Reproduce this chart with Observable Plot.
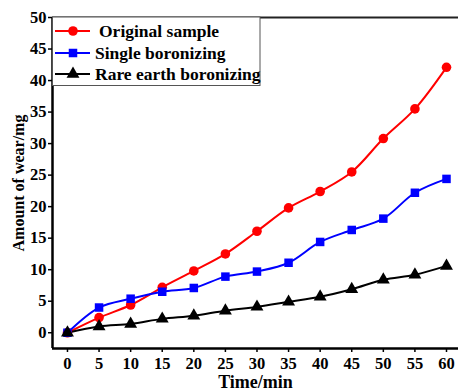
<!DOCTYPE html>
<html>
<head>
<meta charset="utf-8">
<script src="https://cdn.jsdelivr.net/npm/d3@7"></script>
<script src="https://cdn.jsdelivr.net/npm/@observablehq/plot@0.6"></script>
<style>
  html, body { margin: 0; padding: 0; background: #fff; }
  #wrap { position: relative; width: 458px; height: 392px; overflow: hidden; }
  #legend { position: absolute; left: 0; top: 0; }
</style>
</head>
<body>
<div id="wrap"></div>
<script>
const times = [0, 5, 10, 15, 20, 25, 30, 35, 40, 45, 50, 55, 60];
const original = [0, 2.4, 4.4, 7.2, 9.8, 12.5, 16.1, 19.8, 22.4, 25.5, 30.8, 35.5, 42.1];
const single = [0, 4.0, 5.4, 6.5, 7.1, 8.9, 9.7, 11.1, 14.4, 16.3, 18.1, 22.2, 24.4];
const rareEarth = [0, 1.0, 1.4, 2.2, 2.7, 3.5, 4.1, 4.9, 5.7, 6.9, 8.4, 9.2, 10.6];
const seriesNames = ["Original sample", "Single boronizing", "Rare earth boronizing"];
const seriesColors = ["#ff0000", "#0000ff", "#000000"];
const seriesSymbols = ["circle", "square", "triangle"];
const yTicks = [0, 5, 10, 15, 20, 25, 30, 35, 40, 45, 50];
const xTicks = [0, 5, 10, 15, 20, 25, 30, 35, 40, 45, 50, 55, 60];

const allSeries = [original, single, rareEarth];
const data = [];
allSeries.forEach((vals, i) => vals.forEach((v, j) => data.push({series: seriesNames[i], t: times[j], v})));

const xDomain = [-2.37, 61.9];
const yDomain = [-2.5, 50];
const font = "'Liberation Serif', 'Times New Roman', serif";

const chart = Plot.plot({
  width: 458,
  height: 392,
  marginLeft: 52,
  marginRight: 0,
  marginTop: 17,
  marginBottom: 44,
  style: {fontFamily: font, fontSize: "16.5px", fontWeight: "bold", color: "#000", background: "#fff"},
  x: {domain: xDomain, ticks: xTicks, tickSize: 4, tickPadding: 5, label: null},
  y: {domain: yDomain, ticks: yTicks, tickSize: 4, tickPadding: 2, label: null},
  color: {domain: seriesNames, range: seriesColors},
  symbol: {domain: seriesNames, range: seriesSymbols},
  marks: [
    Plot.axisX({ticks: xTicks, tickSize: 4, tickPadding: 5, strokeWidth: 1.5, label: null, fontSize: 16.5}),
    Plot.axisY({ticks: yTicks, tickSize: 4, tickPadding: 2, strokeWidth: 1.5, label: null, fontSize: 16.5}),
    Plot.line(data, {x: "t", y: "v", z: "series", stroke: "series", strokeWidth: 2, curve: "catmull-rom"}),
    Plot.dot(data, {x: "t", y: "v", fill: "series", symbol: "series", r: 4.8, stroke: null}),
    Plot.ruleX([xDomain[0]], {stroke: "#000", strokeWidth: 2.5}),
    Plot.ruleY([yDomain[0]], {stroke: "#000", strokeWidth: 2.5}),
    Plot.ruleY([yDomain[1]], {stroke: "#222", strokeWidth: 2}),
    Plot.text(["Time/min"], {frameAnchor: "bottom", lineAnchor: "middle", dy: 34, fontSize: 18, fontWeight: "bold"}),
    Plot.text(["Amount of wear/mg"], {frameAnchor: "left", textAnchor: "middle", dx: -34, rotate: -90, fontSize: 16, fontWeight: "bold"})
  ]
});

document.getElementById("wrap").appendChild(chart);

// Legend overlay
const legend = d3.select("#wrap").append("svg")
  .attr("id", "legend").attr("width", 458).attr("height", 392)
  .style("font-family", font).style("font-weight", "bold");
legend.append("rect")
  .attr("x", 52.5).attr("y", 17).attr("width", 207.5).attr("height", 68.5)
  .attr("fill", "#fff").attr("stroke", "#555").attr("stroke-width", 1);
const rowY = [31, 53, 74];
const textX = [99, 95, 95];
seriesNames.forEach((name, i) => {
  const g = legend.append("g");
  g.append("line").attr("x1", 55).attr("x2", 90).attr("y1", rowY[i]).attr("y2", rowY[i])
    .attr("stroke", seriesColors[i]).attr("stroke-width", 2);
  const sym = {circle: d3.symbolCircle, square: d3.symbolSquare, triangle: d3.symbolTriangle}[seriesSymbols[i]];
  g.append("path").attr("d", d3.symbol(sym, Math.PI * 4.8 * 4.8)())
    .attr("transform", `translate(73,${rowY[i]})`).attr("fill", seriesColors[i]);
  g.append("text").attr("x", textX[i]).attr("y", rowY[i]).attr("dy", "0.35em")
    .attr("font-size", 17.5).attr("fill", "#000").text(name);
});
</script>
</body>
</html>
